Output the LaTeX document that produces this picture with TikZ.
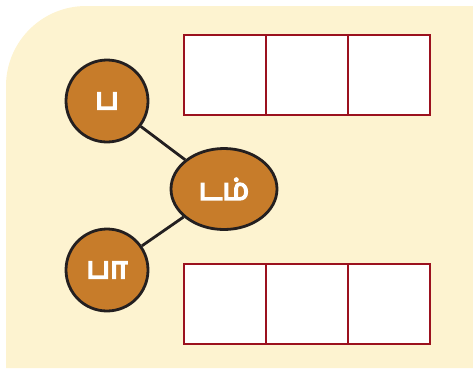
\documentclass[tikz,border=0pt]{standalone}
\usepackage{fontspec}
\newfontfamily\tamilfont[Script=Tamil]{Hind Madurai}
\usetikzlibrary{shapes.geometric}
\definecolor{cream}{HTML}{FDF3D0}
\definecolor{syll}{HTML}{C77C2A}
\definecolor{edge}{HTML}{231F20}
\definecolor{boxred}{HTML}{9B111E}
% heavy white letters: fill and stroke the glyphs
\newcommand{\heavy}[1]{\special{pdf:literal direct 2 Tr 1.6 w 1 G}#1\special{pdf:literal direct 0 Tr}}
\tikzset{
  sylnode/.style={circle, draw=edge, fill=syll, line width=2.8pt, minimum size=82pt,
    inner sep=0pt, text=white, font=\tamilfont\fontsize{30}{30}\selectfont},
  wordnode/.style={ellipse, draw=edge, fill=syll, line width=2.8pt, minimum width=106pt,
    minimum height=81pt, inner sep=0pt, text=white, font=\tamilfont\fontsize{30}{30}\selectfont},
  cell/.style={draw=boxred, fill=white, line width=2.6pt, minimum width=82pt,
    minimum height=80pt, inner sep=0pt}
}

\begin{document}
\begin{tikzpicture}[x=1pt, y=-1pt]
  \useasboundingbox (0,0) rectangle (473,368);
  % background panel, rounded top left corner
  \fill[cream] (6,368) -- (6,86) arc (180:270:80) -- (473,6) -- (473,368) -- cycle;
  % syllables and word
  \node[sylnode] (pa) at (107,101) {\heavy{ப}};
  \node[sylnode] (paa) at (107,270) {\heavy{பா}};
  \node[wordnode] (tam) at (224,189) {\heavy{டம்}};
  \draw[edge, line width=2.8pt] (pa) -- (tam);
  \draw[edge, line width=2.8pt] (paa) -- (tam);
  % empty answer cells
  \foreach \i in {0,1,2} {
    \node[cell] (top\i) at (225+82*\i,75) {};
    \node[cell] (bot\i) at (225+82*\i,304) {};
  }
\end{tikzpicture}
\end{document}
